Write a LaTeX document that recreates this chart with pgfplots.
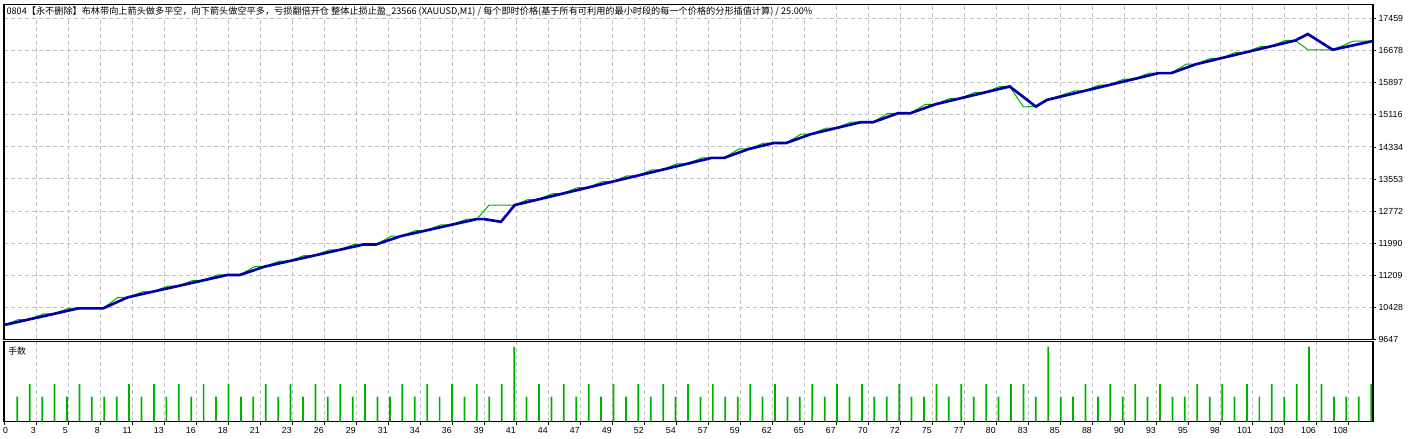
\documentclass[border=0pt]{standalone}
\usepackage{fontspec}
\usepackage{pgfplots}
\pgfplotsset{compat=1.18}
\setmainfont{Liberation Sans}
\newfontfamily\cjk{Noto Sans CJK SC}

\definecolor{balblue}{RGB}{0,0,168}
\definecolor{eqgreen}{RGB}{0,176,0}
\definecolor{gridgray}{RGB}{192,192,192}

\pgfplotsset{
  mt4/.style={
    scale only axis, width=1026.75pt,
    xmin=-0.0725, xmax=110.15,
    xtick={-0.0725,2.5040,...,108.3},
    xmajorgrids,
    grid style={gridgray, line width=0.75pt, dash pattern=on 3pt off 2.25pt},
    axis line style={line width=0.8pt},
    tick style={black, line width=0.6pt},
    tick align=outside, major tick length=2.25pt,
    ticklabel style={font=\fontsize{6.6}{7}\selectfont},
    clip=true,
  }
}

\begin{document}
\begin{tikzpicture}
\useasboundingbox (0,0) rectangle (1063.5pt,-329.25pt);

% balance / equity
\begin{axis}[mt4,
  at={(3pt,-3.525pt)}, anchor=north west,
  height=250.95pt,
  ymin=9647, ymax=17800,
  ytick={9647,10428,11209,11990,12772,13553,14334,15116,15897,16678,17459},
  yticklabels={9647,10428,11209,11990,12772,13553,14334,15116,15897,16678,17459},
  ymajorgrids,
  ytick pos=right, yticklabel pos=right,
  yticklabel style={xshift=-1.6pt, text height=4.7pt, text depth=0pt},
  xticklabel=\empty, xtick style={draw=none},
]
% equity
\addplot[eqgreen, line width=0.75pt] coordinates {
  (0,10000) (1.1,10129) (1.9,10129) (3.1,10264) (3.9,10264)
  (5.1,10400) (5.9,10400) (7.9,10400) (9.1,10671) (9.9,10671)
  (11.1,10807) (11.9,10807) (13.1,10942) (13.9,10942)
  (15.1,11078) (15.9,11078) (17.1,11214) (17.9,11214)
  (18.9,11214) (20.1,11417) (20.9,11417) (22.1,11553) (22.9,11553)
  (24.1,11688) (24.9,11688) (26.1,11824) (26.9,11824)
  (28.1,11959) (28.9,11959) (29.9,11959) (31.1,12163) (31.9,12163)
  (33.1,12298) (33.9,12298) (35.1,12434) (35.9,12434)
  (37.2,12576) (38.0,12576) (38.98,12918) (41.05,12918)
  (42.1,13052) (42.9,13052) (44.1,13197) (44.9,13197)
  (46.1,13342) (46.9,13342) (48.1,13487) (48.9,13487)
  (50.1,13632) (50.9,13632) (52.1,13777) (52.9,13777)
  (54.1,13922) (54.9,13922) (56.1,14067) (56.9,14067) (57.9,14067)
  (59.1,14285) (59.9,14285) (61.1,14430) (61.9,14430) (62.9,14430)
  (64.1,14647) (64.9,14647) (66.1,14792) (66.9,14792)
  (68.1,14937) (68.9,14937) (69.9,14937) (71.1,15155) (71.9,15155) (72.9,15155)
  (74.1,15372) (74.9,15372) (76.1,15517) (76.9,15517)
  (78.1,15662) (78.9,15662) (80.1,15807) (80.9,15807)
  (82.0,15310) (83.0,15318) (83.9,15481)
  (86.1,15698) (86.9,15698) (88.1,15843) (88.9,15843)
  (90.1,15988) (90.9,15988) (92.1,16133) (92.9,16133) (93.9,16133)
  (95.1,16350) (95.9,16350) (97.1,16495) (97.9,16495)
  (99.1,16639) (99.9,16639) (101.1,16784) (101.9,16784)
  (103.1,16929) (103.9,16929)
  (104.9,16702) (106.9,16702) (108.6,16915) (110.15,16915)
};
% balance
\addplot[balblue, line width=2pt] coordinates {
  (0,10000) (1.9,10129) (3.9,10264) (5.9,10400) (7.9,10400) (9.9,10671)
  (11.9,10807) (13.9,10942) (15.9,11078) (17.9,11214) (18.9,11214) (20.9,11417)
  (22.9,11553) (24.9,11688) (26.9,11824) (28.9,11959) (29.9,11959) (31.9,12163)
  (33.9,12298) (35.9,12434) (38.0,12576)
  (38.56,12576) (39.94,12510) (41.05,12918)
  (42.9,13052) (44.9,13197) (46.9,13342) (48.9,13487) (50.9,13632)
  (52.9,13777) (54.9,13922) (56.9,14067) (57.9,14067) (59.9,14285)
  (61.9,14430) (62.9,14430) (64.9,14647) (66.9,14792) (68.9,14937)
  (69.9,14937) (71.9,15155) (72.9,15155) (74.9,15372) (76.9,15517)
  (78.9,15662) (80.9,15807)
  (83.0,15318) (83.9,15481)
  (86.9,15698) (88.9,15843) (90.9,15988) (92.9,16133) (93.9,16133)
  (95.9,16350) (97.9,16495) (99.9,16639) (101.9,16784) (103.9,16929)
  (104.9,17085) (106.9,16702) (110.15,16915)
};
\end{axis}

% lots
\begin{axis}[mt4,
  at={(3pt,-256.275pt)}, anchor=north west,
  height=60pt,
  ymin=0, ymax=0.064,
  ytick=\empty,
  xtick pos=bottom,
  xticklabels={\makebox[0pt][l]{0},3,5,8,11,13,16,18,21,23,26,29,31,34,36,39,41,44,47,49,52,54,57,59,62,65,67,70,72,75,77,80,83,85,88,90,93,95,98,101,103,106,108},
  xticklabel style={anchor=north east, inner xsep=0pt, yshift=1.9pt,
                    text height=4.7pt, text depth=0pt},
]
\addplot[ybar, bar width=1.3pt, bar shift=0pt, fill=eqgreen, draw=none] coordinates {
  (1,0.02) (2,0.03) (3,0.02) (4,0.03) (5,0.02) (6,0.03) (7,0.02) (8,0.02) (9,0.02) (10,0.03)
  (11,0.02) (12,0.03) (13,0.02) (14,0.03) (15,0.02) (16,0.03) (17,0.02) (18,0.03) (19,0.02) (20,0.02)
  (21,0.03) (22,0.02) (23,0.03) (24,0.02) (25,0.03) (26,0.02) (27,0.03) (28,0.02) (29,0.03) (30,0.02)
  (31,0.02) (32,0.03) (33,0.02) (34,0.03) (35,0.02) (36,0.03) (37,0.02) (38,0.03) (39,0.02) (40,0.03)
  (41,0.06) (42,0.02) (43,0.03) (44,0.02) (45,0.03) (46,0.02) (47,0.03) (48,0.02) (49,0.03) (50,0.02)
  (51,0.03) (52,0.02) (53,0.03) (54,0.02) (55,0.03) (56,0.02) (57,0.03) (58,0.02) (59,0.02) (60,0.03)
  (61,0.02) (62,0.03) (63,0.02) (64,0.02) (65,0.03) (66,0.02) (67,0.03) (68,0.02) (69,0.03) (70,0.02)
  (71,0.02) (72,0.03) (73,0.02) (74,0.02) (75,0.03) (76,0.02) (77,0.03) (78,0.02) (79,0.03) (80,0.02)
  (81,0.03) (82,0.03) (83,0.02) (84,0.06) (85,0.02) (86,0.02) (87,0.03) (88,0.02) (89,0.03) (90,0.02)
  (91,0.03) (92,0.02) (93,0.03) (94,0.02) (95,0.02) (96,0.03) (97,0.02) (98,0.03) (99,0.02) (100,0.03)
  (101,0.02) (102,0.03) (103,0.02) (104,0.03) (105,0.06) (106,0.03) (107,0.02) (108,0.02) (109,0.02) (110,0.03)
};
\end{axis}

\node[anchor=west, fill=white, inner xsep=0.5pt, inner ysep=0.6pt,
      font=\cjk\fontsize{6.87}{8}\selectfont] at (4.2pt,-9pt)
  {0804【永不删除】布林带向上箭头做多平空，向下箭头做空平多，亏损翻倍开仓 整体止损止盈\_23566 (XAUUSD,M1) / 每个即时价格(基于所有可利用的最小时段的每一个价格的分形插值计算) / 25.00\%};
\node[anchor=west, inner sep=0pt, font=\cjk\fontsize{6.7}{8}\selectfont] at (6pt,-263pt) {手数};
\end{tikzpicture}
\end{document}
